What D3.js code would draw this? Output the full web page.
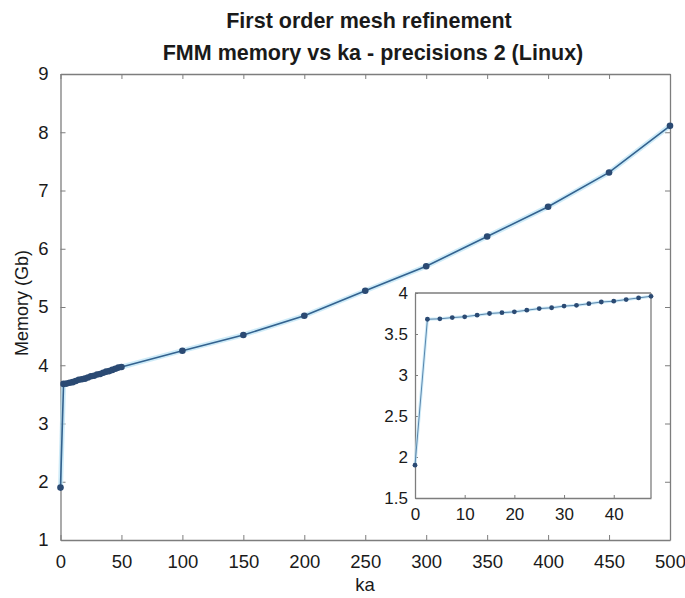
<!DOCTYPE html>
<html><head><meta charset="utf-8">
<script src="https://cdn.jsdelivr.net/npm/d3@7"></script>
<style>
body{margin:0;background:#fff;}
text{font-family:"Liberation Sans",Arial,Helvetica,sans-serif;fill:#1a1a1a;}
</style></head>
<body><svg id="c" width="685" height="598"></svg>
<script>
// ---- data ----
const kaFine = [0,2.5,5,7.5,10,12.5,15,17.5,20,22.5,25,27.5,30,32.5,35,37.5,40,42.5,45,47.5];
const memFine = [1.9,3.68,3.685,3.70,3.71,3.73,3.75,3.76,3.77,3.79,3.81,3.82,3.84,3.85,3.87,3.89,3.90,3.92,3.94,3.96];
const kaCoarse = [50,100,150,200,250,300,350,400,450,500];
const memCoarse = [3.97,4.25,4.52,4.85,5.28,5.70,6.21,6.72,7.31,8.11];
const mainXTicks = [0,50,100,150,200,250,300,350,400,450,500];
const mainYTicks = [1,2,3,4,5,6,7,8,9];
const insetXTicks = [0,10,20,30,40];
const insetYTicks = [1.5,2,2.5,3,3.5,4];
const titles = ["First order mesh refinement","FMM memory vs ka - precisions 2 (Linux)"];
const xLabel = "ka", yLabel = "Memory (Gb)";

const allKa = kaFine.concat(kaCoarse);
const allMem = memFine.concat(memCoarse);
const mainData = allKa.map((k,i)=>({k, m: allMem[i]}));
const insetData = kaFine.map((k,i)=>({k, m: memFine[i]}));

const svg = d3.select("#c");
const axisCol = "#7d7d7d", lineCol = "#33628f", dotCol = "#2b4a73", haloCol = "#b9e2f5";

// ---- main axes ----
const x = d3.scaleLinear().domain([0,500]).range([60.5,670]);
const y = d3.scaleLinear().domain([1,9]).range([540,74]);

function styleAxis(g){
  g.selectAll("path").attr("stroke",axisCol).attr("stroke-width",1.3);
  g.selectAll("line").attr("stroke",axisCol).attr("stroke-width",1);
}

svg.append("g").attr("transform","translate(0,540)")
  .call(d3.axisBottom(x).tickValues(mainXTicks).tickSizeInner(-5).tickSizeOuter(0).tickPadding(15).tickFormat(d3.format("d")))
  .call(styleAxis).call(g=>g.selectAll("text").attr("font-size",18.5).attr("fill","#1a1a1a"));
svg.append("g").attr("transform","translate(0,74)")
  .call(d3.axisTop(x).tickValues(mainXTicks).tickSizeInner(-5).tickSizeOuter(0).tickFormat(""))
  .call(styleAxis);
svg.append("g").attr("transform","translate(60.5,0)")
  .call(d3.axisLeft(y).tickValues(mainYTicks).tickSizeInner(-5).tickSizeOuter(0).tickPadding(12).tickFormat(d3.format("d")))
  .call(styleAxis).call(g=>g.selectAll("text").attr("font-size",18.5).attr("fill","#1a1a1a"));
svg.append("g").attr("transform","translate(670,0)")
  .call(d3.axisRight(y).tickValues(mainYTicks).tickSizeInner(-5).tickSizeOuter(0).tickFormat(""))
  .call(styleAxis);

const line = d3.line().x(d=>x(d.k)).y(d=>y(d.m));
svg.append("path").datum(mainData).attr("d",line).attr("fill","none")
  .attr("stroke",haloCol).attr("stroke-width",5).attr("opacity",0.7);
svg.append("path").datum(mainData).attr("d",line).attr("fill","none")
  .attr("stroke",lineCol).attr("stroke-width",1.6);
svg.append("g").selectAll("circle").data(mainData).join("circle")
  .attr("cx",d=>x(d.k)).attr("cy",d=>y(d.m)).attr("r",3.3).attr("fill",dotCol);

// ---- labels ----
svg.append("text").attr("x",369).attr("y",28).attr("text-anchor","middle")
  .attr("font-size",21.5).attr("font-weight","bold").text(titles[0]);
svg.append("text").attr("x",373).attr("y",60).attr("text-anchor","middle")
  .attr("font-size",21.5).attr("font-weight","bold").text(titles[1]);
svg.append("text").attr("x",365).attr("y",591).attr("text-anchor","middle")
  .attr("font-size",18.5).text(xLabel);
svg.append("text").attr("transform","translate(28,303) rotate(-90)").attr("text-anchor","middle")
  .attr("font-size",18).text(yLabel);

// ---- inset ----
const ix = d3.scaleLinear().domain([0,47.5]).range([415,651]);
const iy = d3.scaleLinear().domain([1.5,4]).range([498,293]);
svg.append("rect").attr("x",415).attr("y",293).attr("width",236).attr("height",205).attr("fill","#fff");
svg.append("g").attr("transform","translate(0,498)")
  .call(d3.axisBottom(ix).tickValues(insetXTicks).tickSizeInner(-3).tickSizeOuter(0).tickPadding(10).tickFormat(d3.format("d")))
  .call(styleAxis).call(g=>g.selectAll("text").attr("font-size",17).attr("fill","#1a1a1a"));
svg.append("g").attr("transform","translate(415,0)")
  .call(d3.axisLeft(iy).tickValues(insetYTicks).tickSizeInner(-3).tickSizeOuter(0).tickPadding(7).tickFormat(d=>String(d)))
  .call(styleAxis).call(g=>g.selectAll("text").attr("font-size",17).attr("fill","#1a1a1a"));
svg.append("line").attr("x1",415).attr("x2",651).attr("y1",293).attr("y2",293).attr("stroke",axisCol).attr("stroke-width",1.3);
svg.append("line").attr("x1",651).attr("x2",651).attr("y1",293).attr("y2",498).attr("stroke",axisCol).attr("stroke-width",1.3);

const iline = d3.line().x(d=>ix(d.k)).y(d=>iy(d.m));
svg.append("path").datum(insetData).attr("d",iline).attr("fill","none")
  .attr("stroke",haloCol).attr("stroke-width",3).attr("opacity",0.7);
svg.append("path").datum(insetData).attr("d",iline).attr("fill","none")
  .attr("stroke","#5a86ad").attr("stroke-width",1);
svg.append("g").selectAll("circle").data(insetData).join("circle")
  .attr("cx",d=>ix(d.k)).attr("cy",d=>iy(d.m)).attr("r",2.4).attr("fill",dotCol);
</script></body></html>
